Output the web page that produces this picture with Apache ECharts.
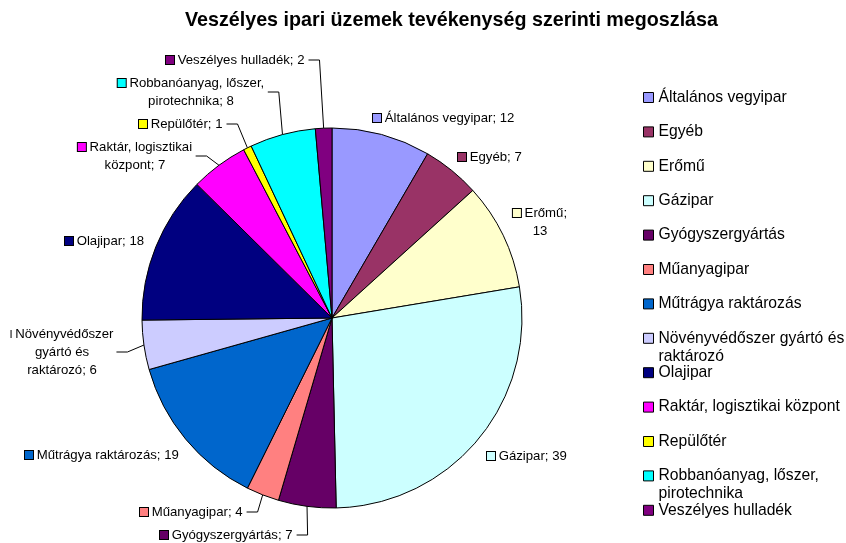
<!DOCTYPE html>
<html>
<head>
<meta charset="utf-8">
<script src="https://cdn.jsdelivr.net/npm/echarts@6/dist/echarts.min.js"></script>
<style>
html,body{margin:0;padding:0;background:#fff;}
#c{width:846px;height:543px;}
</style>
</head>
<body>
<div id="c"></div>
<script>
// ---- data ----
const categories = [
  'Általános vegyipar', 'Egyéb', 'Erőmű', 'Gázipar', 'Gyógyszergyártás', 'Műanyagipar',
  'Műtrágya raktározás', 'Növényvédőszer gyártó és raktározó', 'Olajipar',
  'Raktár, logisztikai központ', 'Repülőtér', 'Robbanóanyag, lőszer, pirotechnika', 'Veszélyes hulladék'
];
const values = [12, 7, 13, 39, 7, 4, 19, 6, 18, 7, 1, 8, 2];
const titleText = 'Veszélyes ipari üzemek tevékenység szerinti megoszlása';
// legend display text (wrapped as in the reference)
const legendText = [
  'Általános vegyipar', 'Egyéb', 'Erőmű', 'Gázipar', 'Gyógyszergyártás', 'Műanyagipar',
  'Műtrágya raktározás', 'Növényvédőszer gyártó és\nraktározó', 'Olajipar',
  'Raktár, logisztikai központ', 'Repülőtér', 'Robbanóanyag, lőszer,\npirotechnika', 'Veszélyes hulladék'
];
// data label names (wrapped) and separators before the value
const labelNames = [
  'Általános vegyipar', 'Egyéb', 'Erőmű', 'Gázipar', 'Gyógyszergyártás', 'Műanyagipar',
  'Műtrágya raktározás', 'Növényvédőszer\ngyártó és\nraktározó', 'Olajipar',
  'Raktár, logisztikai\nközpont', 'Repülőtér', 'Robbanóanyag, lőszer,\npirotechnika', 'Veszélyes hulladék'
];
const labelSep = ['; ', '; ', ';\n', '; ', '; ', '; ', '; ', '; ', '; ', '; ', '; ', '; ', '; '];

// ---- styles / layout ----
const colors = ['#9999FF', '#993366', '#FFFFCC', '#CCFFFF', '#660066', '#FF8080', '#0066CC',
                '#CCCCFF', '#000080', '#FF00FF', '#FFFF00', '#00FFFF', '#800080'];
const labelPos = [
  [373, 118, 'left'], [458, 157, 'left'], [540, 222, 'center'], [487, 456, 'left'],
  [160, 535, 'left'], [140, 512, 'left'], [25, 455, 'left'], [62, 352, 'center'],
  [65, 241, 'left'], [135, 156, 'center'], [139, 124, 'left'], [191, 92, 'center'], [166, 60, 'left']
];
const showLeader = [false, false, false, false, true, true, false, true, false, true, true, true, true];
const FONT = '"Liberation Sans", Arial, sans-serif';
const legendY0 = 97.5, legendStep = 34.4;

const rich = { t: { fontSize: 13.2, fontFamily: FONT, color: '#000', lineHeight: 18 },
               cut: { width: 1, height: 8, backgroundColor: '#000' } };
colors.forEach((c, i) => {
  rich['m' + i] = { width: 8, height: 8, backgroundColor: c, borderColor: '#000', borderWidth: 1 };
});

const legends = categories.map((name, i) => {
  const multi = legendText[i].indexOf('\n') >= 0;
  const y = legendY0 + legendStep * i;
  return {
    orient: 'vertical', left: 643, top: multi ? y - 27 : y - 9, padding: 0,
    icon: 'rect', itemWidth: 10, itemHeight: 10, selectedMode: false,
    itemStyle: { borderColor: '#000', borderWidth: 1 },
    textStyle: { fontSize: 15.7, fontFamily: FONT, color: '#000', lineHeight: 18 },
    // a leading blank line keeps the icon level with the first text line
    formatter: () => (multi ? ' \n' : '') + legendText[i],
    data: [name]
  };
});

const chart = echarts.init(document.getElementById('c'), null, { renderer: 'canvas' });
chart.setOption({
  backgroundColor: '#fff',
  animation: false,
  title: {
    text: titleText, left: 185, top: 10, padding: 0,
    textStyle: { fontSize: 19.7, fontWeight: 'bold', fontFamily: FONT, color: '#000', lineHeight: 21 }
  },
  legend: legends,
  series: [{
    type: 'pie',
    center: [332, 318],
    radius: 190,
    startAngle: 90,
    clockwise: true,
    avoidLabelOverlap: false,
    emphasis: { disabled: true },
    itemStyle: { borderColor: '#000', borderWidth: 1 },
    label: {
      show: true, position: 'outside', rich: rich,
      formatter: function (p) {
        const i = p.dataIndex;
        const lines = (labelNames[i] + labelSep[i] + values[i]).split('\n');
        const mk = i === 7 ? '{cut|}' : '{m' + i + '|}';
        return lines.map((l, k) => (k === 0 ? mk + '{t| ' + l + '}' : '{t|' + l + '}')).join('\n');
      }
    },
    labelLine: { show: true, length: 10, length2: 10, lineStyle: { color: '#000', width: 1 } },
    labelLayout: function (params) {
      const i = params.dataIndex;
      const p = labelPos[i];
      const w = params.labelRect.width;
      const left = p[2] === 'center' ? p[0] - w / 2 : p[0];
      const res = { x: p[0], y: p[1], align: p[2], verticalAlign: 'middle' };
      if (showLeader[i] && params.labelLinePoints) {
        const s = params.labelLinePoints[0];
        const endX = left + w + 3;
        res.labelLinePoints = [[s[0], s[1]], [endX + 11, p[1]], [endX, p[1]]];
      }
      return res;
    },
    data: categories.map((name, i) => ({
      name: name, value: values[i],
      itemStyle: { color: colors[i] },
      labelLine: { show: showLeader[i] }
    }))
  }]
});
</script>
</body>
</html>
